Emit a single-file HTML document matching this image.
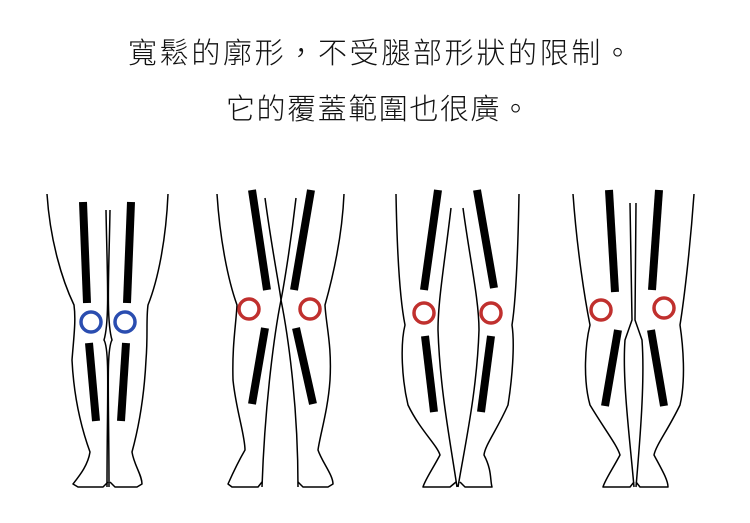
<!DOCTYPE html>
<html><head><meta charset="utf-8"><style>
html,body{margin:0;padding:0;background:#fff;}
svg{display:block}
text{font-family:"Liberation Sans","Noto Sans CJK TC",sans-serif;fill:#111;font-weight:300;}
</style></head><body>
<svg width="750" height="523" viewBox="0 0 750 523" xmlns="http://www.w3.org/2000/svg">
<text x="128" y="63" font-size="29" textLength="504" lengthAdjust="spacing">寬鬆的廓形，不受腿部形狀的限制。</text>
<text x="226" y="119" font-size="29" textLength="304" lengthAdjust="spacing">它的覆蓋範圍也很廣。</text>

<g fill="none" stroke="#000" stroke-width="1.5" stroke-linejoin="round">
<!-- Fig 1 -->
<path d="M47,194 C50,240 62,280 74,305 C76,320 74,335 72,360 C74,400 82,430 90,452 C88,465 80,475 73,484 L78,487 L103,487 L108,482"/>
<path d="M168,194 C166,240 158,280 148,305 C146,320 148,335 146,360 C144,400 138,430 132,452 C134,465 142,475 142,484 L137,487 L115,487 L110,482"/>
<path d="M106,210 C107,270 110,320 104,340 C110,350 107,400 107,487"/>
<path d="M110,210 C109,270 106,320 112,340 C106,350 109,400 109,487"/>
<!-- Fig 2 -->
<path d="M217,194 C220,240 228,280 237,305 C236,325 232,345 233,380 C236,410 245,435 245,450 C238,462 232,475 228,484 L232,487 L258,487 L262,482"/>
<path d="M344,194 C342,240 332,280 325,305 C326,325 332,345 330,380 C328,410 320,435 318,450 C322,462 333,475 333,484 L328,487 L303,487 L298,482"/>
<path d="M265,198 C272,250 280,290 281,300 C275,330 265,400 262,487"/>
<path d="M296,198 C290,250 283,290 281,300 C287,330 298,400 298,487"/>
<!-- Fig 3 -->
<path d="M396,194 C397,250 400,300 405,325 C400,345 402,380 408,405 C420,430 437,445 440,455 C432,470 425,480 423,487 L450,487 L456,482"/>
<path d="M519,194 C518,250 516,300 512,325 C515,345 512,380 508,405 C497,430 485,445 484,455 C492,470 490,480 492,487 L465,487 L460,482"/>
<path d="M451,208 C445,260 438,300 438,330 C440,390 450,440 457,487"/>
<path d="M463,208 C470,260 479,300 479,330 C477,390 466,440 458,487"/>
<!-- Fig 4 -->
<path d="M573,194 C577,250 585,300 590,325 C585,345 583,380 590,405 C605,430 617,445 620,455 C612,470 605,480 603,487 L630,487 L634,482"/>
<path d="M694,194 C690,250 684,300 680,325 C683,345 686,380 680,405 C668,430 656,445 654,455 C662,470 668,480 668,487 L640,487 L636,482"/>
<path d="M630,203 L632,320 L625,340 C622,380 630,440 634,487"/>
<path d="M636,203 L635,320 L642,340 C645,380 640,440 636,487"/>
</g>

<g stroke="#000" stroke-width="8" stroke-linecap="butt">
<line x1="83" y1="202" x2="87" y2="303"/>
<line x1="131" y1="202" x2="127" y2="303"/>
<line x1="89" y1="343" x2="96" y2="421"/>
<line x1="126" y1="343" x2="121" y2="421"/>

<line x1="252" y1="190" x2="267" y2="290"/>
<line x1="311" y1="190" x2="294" y2="290"/>
<line x1="265" y1="328" x2="252" y2="404"/>
<line x1="296" y1="328" x2="313" y2="404"/>

<line x1="438" y1="190" x2="424" y2="290"/>
<line x1="477" y1="190" x2="494" y2="288"/>
<line x1="425" y1="336" x2="434" y2="412"/>
<line x1="491" y1="336" x2="481" y2="412"/>

<line x1="609" y1="190" x2="615" y2="292"/>
<line x1="659" y1="190" x2="652" y2="290"/>
<line x1="618" y1="330" x2="605" y2="406"/>
<line x1="651" y1="330" x2="664" y2="406"/>
</g>

<g fill="#fff" stroke-width="3.5">
<circle cx="91" cy="322" r="10" stroke="#2a4db0"/>
<circle cx="125" cy="322" r="10" stroke="#2a4db0"/>
<circle cx="249" cy="309" r="10" stroke="#c0302e"/>
<circle cx="310" cy="309" r="10" stroke="#c0302e"/>
<circle cx="424" cy="313" r="10" stroke="#c0302e"/>
<circle cx="491" cy="313" r="10" stroke="#c0302e"/>
<circle cx="601" cy="310" r="10" stroke="#c0302e"/>
<circle cx="664" cy="308" r="10" stroke="#c0302e"/>
</g>
</svg>
</body></html>
